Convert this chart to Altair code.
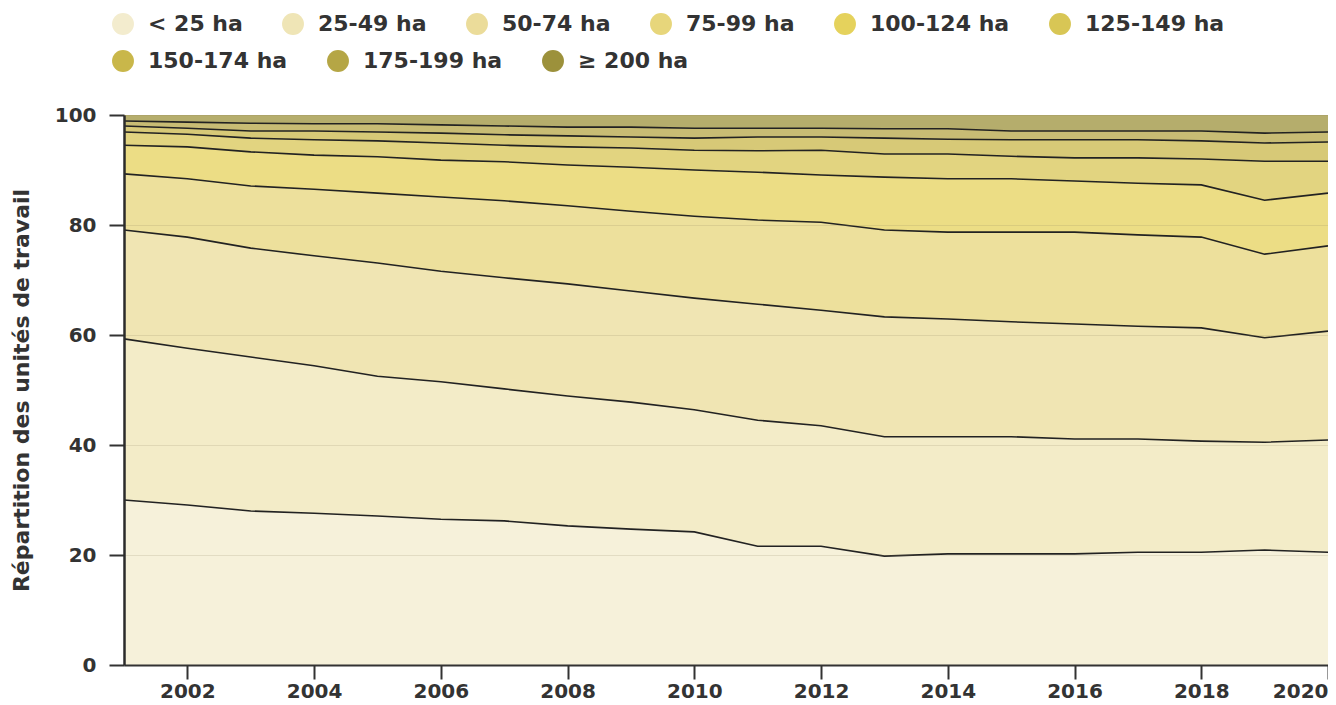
import altair as alt
import pandas as pd

years = list(range(2001, 2021))

classes = ["< 25 ha", "25-49 ha", "50-74 ha", "75-99 ha", "100-124 ha",
           "125-149 ha", "150-174 ha", "175-199 ha", "≥ 200 ha"]
colors = ["#f3ecce", "#efe5b6", "#ebdc9a", "#e7d67b", "#e5d25c",
          "#d8c655", "#c9b74a", "#b5a645", "#9c913b"]

s_lt25 = [30.0, 29.1, 28.0, 27.6, 27.1, 26.5, 26.2, 25.3, 24.7, 24.2,
          21.6, 21.6, 19.8, 20.2, 20.2, 20.2, 20.5, 20.5, 20.9, 20.5]
s_25_49 = [29.3, 28.5, 28.0, 26.8, 25.4, 25.0, 24.0, 23.6, 23.1, 22.2,
           22.9, 21.9, 21.7, 21.3, 21.3, 20.9, 20.6, 20.2, 19.6, 20.4]
s_50_74 = [19.8, 20.2, 19.8, 20.0, 20.6, 20.1, 20.2, 20.4, 20.2, 20.3,
           21.1, 21.0, 21.8, 21.4, 20.9, 20.9, 20.5, 20.6, 19.0, 19.8]
s_75_99 = [10.2, 10.6, 11.3, 12.1, 12.7, 13.5, 14.0, 14.2, 14.5, 14.9,
           15.3, 16.0, 15.8, 15.8, 16.3, 16.7, 16.6, 16.5, 15.2, 15.5]
s_100_124 = [5.2, 5.8, 6.2, 6.2, 6.6, 6.7, 7.1, 7.4, 8.0, 8.4,
             8.7, 8.6, 9.6, 9.7, 9.7, 9.3, 9.4, 9.5, 9.8, 9.6]
s_125_149 = [2.4, 2.3, 2.5, 2.8, 2.9, 3.1, 3.0, 3.3, 3.5, 3.6,
             3.9, 4.5, 4.2, 4.5, 4.1, 4.2, 4.6, 4.7, 7.1, 5.8]
s_150_174 = [1.1, 1.1, 1.3, 1.6, 1.6, 1.8, 1.9, 2.0, 2.0, 2.2,
             2.5, 2.4, 2.9, 2.7, 3.0, 3.3, 3.3, 3.3, 3.3, 3.5]
s_175_199 = [0.9, 1.1, 1.4, 1.3, 1.5, 1.5, 1.6, 1.6, 1.8, 1.8,
             1.6, 1.6, 1.7, 1.9, 1.6, 1.6, 1.6, 1.8, 1.8, 1.8]
s_ge200 = [1.1, 1.3, 1.5, 1.6, 1.6, 1.8, 2.0, 2.2, 2.2, 2.4,
           2.4, 2.4, 2.5, 2.5, 2.9, 2.9, 2.9, 2.9, 3.3, 3.1]

series = [s_lt25, s_25_49, s_50_74, s_75_99, s_100_124,
          s_125_149, s_150_174, s_175_199, s_ge200]

rows = []
for i, (cls, vals) in enumerate(zip(classes, series)):
    for yr, v in zip(years, vals):
        rows.append({"annee": yr, "classe": cls, "part": v, "ordre": i})
df = pd.DataFrame(rows)

FONT = "DejaVu Sans"
TXT = "#333333"
ROW1 = 6  # number of legend entries on the first legend row

base = alt.Chart(df).transform_window(
    cum="sum(part)", frame=[None, 0], groupby=["annee"],
    sort=[alt.SortField("ordre", order="ascending")]
).transform_calculate(lo="datum.cum - datum.part")

x_enc = alt.X("annee:Q",
              scale=alt.Scale(domain=[2001, 2020], nice=False, zero=False),
              axis=alt.Axis(values=list(range(2002, 2021, 2)), format="d",
                            title=None, grid=False, labelPadding=2,
                            tickSize=14, zindex=2))
y_enc = alt.Y("cum:Q",
              scale=alt.Scale(domain=[0, 100], nice=False),
              axis=alt.Axis(values=[0, 20, 40, 60, 80, 100],
                            title="Répartition des unités de travail",
                            grid=True, labelPadding=13, tickSize=15,
                            titleX=-91, titleY=275, titleAngle=270,
                            titleAlign="center", titleBaseline="bottom",
                            titleFontSize=22, zindex=2,
                            domainColor="#2b2b2b", domainWidth=2.5))


def legend(y, ncol):
    return alt.Legend(title=None, orient="none", legendX=-12, legendY=y,
                      direction="horizontal", columns=ncol,
                      symbolType="circle",
                      symbolSize=480, symbolStrokeWidth=0, symbolOpacity=1,
                      labelFont=FONT, labelFontSize=22,
                      labelFontWeight="bold", labelColor=TXT,
                      labelOffset=14, columnPadding=39)


area1 = base.transform_filter(f"datum.ordre < {ROW1}").mark_area(
    fillOpacity=0.75
).encode(
    x=x_enc,
    y=y_enc,
    y2="lo:Q",
    color=alt.Color("classe:N",
                    scale=alt.Scale(domain=classes[:ROW1], range=colors[:ROW1]),
                    legend=legend(-102, ROW1)),
)

area2 = base.transform_filter(f"datum.ordre >= {ROW1}").mark_area(
    fillOpacity=0.75
).encode(
    x="annee:Q",
    y="cum:Q",
    y2="lo:Q",
    color=alt.Color("classe:N",
                    scale=alt.Scale(domain=classes[ROW1:], range=colors[ROW1:]),
                    legend=legend(-65, len(classes) - ROW1)),
)

lines = base.transform_filter("datum.ordre < 8").mark_line(
    color="#222222", strokeWidth=1.6
).encode(
    x="annee:Q",
    y="cum:Q",
    detail="classe:N",
)

chart = alt.layer(area1, area2, lines).resolve_scale(
    color="independent"
).properties(
    width=1204, height=550,
    autosize=alt.AutoSizeParams(type="none"),
    padding={"left": 116, "top": 107, "right": 0, "bottom": 38},
).configure_view(stroke=None).configure_axis(
    labelFont=FONT, labelFontSize=20, labelFontWeight="bold", labelColor=TXT,
    titleFont=FONT, titleFontSize=22, titleFontWeight="bold", titleColor=TXT,
    domainColor=TXT, domainWidth=2, tickColor=TXT, tickWidth=2,
    gridColor="#8a8060", gridOpacity=0.18, gridWidth=1,
)

chart.save("out.html", embed_options={"renderer": "svg", "actions": False})
